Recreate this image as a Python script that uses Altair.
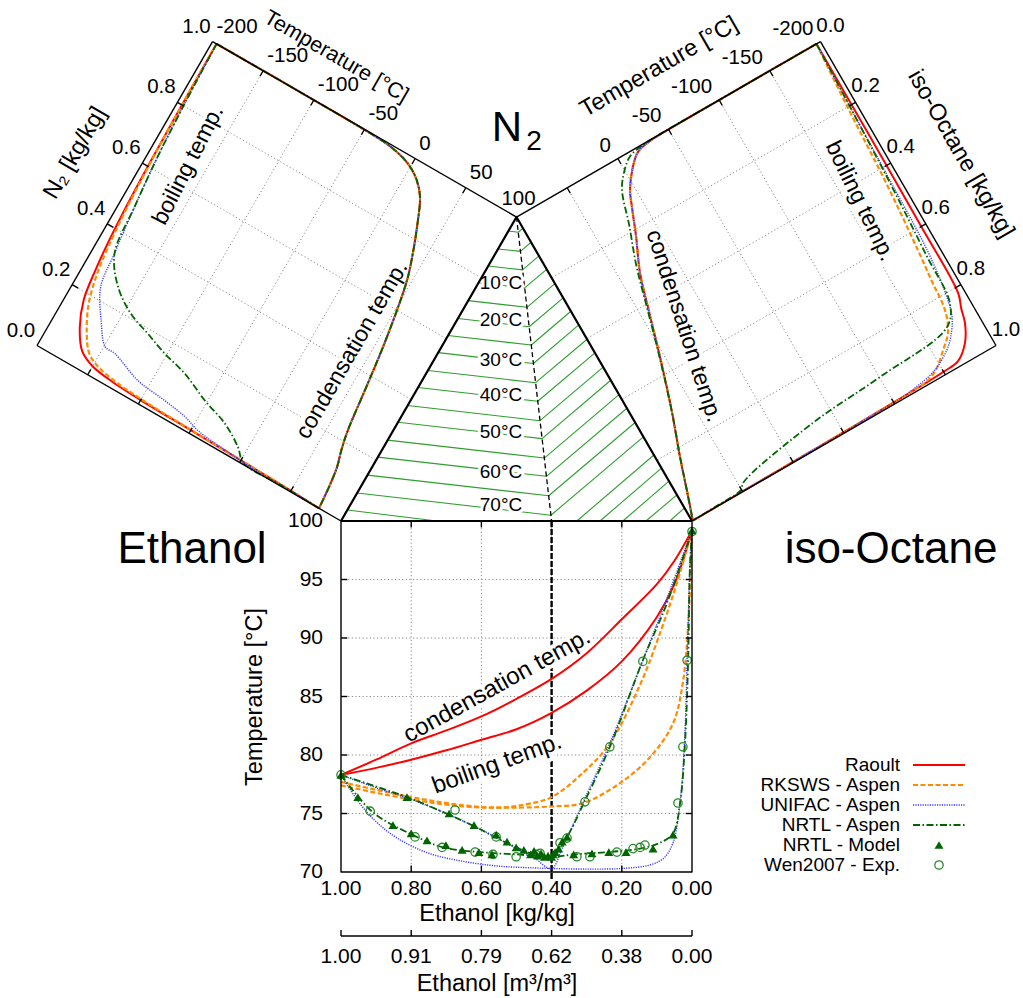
import math
import altair as alt
import pandas as pd

# ---------------- bottom panel: ethanol / iso-octane, T-x diagram ----------------
e_raoult_dew = [1.0, 0.9, 0.8, 0.7, 0.6, 0.5, 0.4, 0.3, 0.2, 0.1, 0.05, 0.0]
T_raoult_dew = [78.3, 79.6, 81.0, 82.1, 83.3, 84.8, 86.5, 88.7, 91.6, 94.6, 96.6, 99.2]
e_raoult_bub = [1.0, 0.9, 0.8, 0.7, 0.6, 0.5, 0.4, 0.3, 0.2, 0.1, 0.05, 0.0]
T_raoult_bub = [78.3, 78.9, 79.6, 80.4, 81.3, 82.2, 83.6, 85.5, 88.0, 91.8, 94.6, 99.2]

e_rk_1 = [1.0, 0.8, 0.65, 0.55, 0.47, 0.40, 0.31, 0.234, 0.148, 0.09, 0.04, 0.0]
T_rk_1 = [77.7, 76.4, 75.7, 75.5, 75.8, 76.4, 78.5, 81.0, 86.0, 90.5, 95.0, 99.2]
e_rk_2 = [1.0, 0.8, 0.65, 0.55, 0.4, 0.31, 0.205, 0.12, 0.054, 0.026, 0.011, 0.003, 0.0]
T_rk_2 = [77.4, 76.2, 75.6, 75.5, 75.6, 75.9, 77.6, 79.8, 82.7, 86.2, 91.0, 96.7, 99.2]

e_unifac_bub = [1.0, 0.95, 0.9, 0.84, 0.75, 0.65, 0.55, 0.45, 0.4, 0.3, 0.2, 0.12, 0.08,
                0.054, 0.034, 0.02, 0.014, 0.006, 0.0]
T_unifac_bub = [78.3, 76.0, 74.3, 72.9, 71.6, 70.9, 70.5, 70.35, 70.3, 70.25, 70.3, 70.6, 71.2,
                72.5, 75.9, 82.0, 88.1, 96.0, 99.2]
e_unifac_dew = [1.0, 0.9, 0.8, 0.7, 0.6, 0.5, 0.45, 0.4, 0.37, 0.311, 0.234, 0.14, 0.07, 0.0]
T_unifac_dew = [78.3, 77.2, 76.2, 75.0, 73.6, 72.0, 71.2, 70.3, 72.0, 75.9, 81.0, 88.1, 93.5, 99.2]

e_nrtl_dew = [1.0, 0.9, 0.812, 0.7, 0.613, 0.556, 0.5, 0.433, 0.40, 0.356, 0.305, 0.234, 0.14, 0.071, 0.0]
T_nrtl_dew = [78.3, 77.3, 76.4, 75.0, 73.8, 72.9, 72.1, 71.3, 71.2, 73.0, 76.1, 80.7, 88.1, 93.0, 99.2]
e_nrtl_bub = [1.0, 0.909, 0.798, 0.709, 0.604, 0.499, 0.396, 0.339, 0.242, 0.148, 0.091, 0.054,
              0.034, 0.02, 0.011, 0.006, 0.0]
T_nrtl_bub = [78.3, 75.1, 73.2, 72.1, 71.7, 71.5, 71.3, 71.5, 71.7, 72.0, 72.5, 73.3,
              75.9, 81.0, 88.1, 96.0, 99.2]

e_nrtl_model = [1.0, 0.952, 0.852, 0.812, 0.800, 0.755, 0.701, 0.692, 0.655, 0.621,
                0.607, 0.570, 0.558, 0.527, 0.501, 0.479, 0.460, 0.450, 0.440, 0.430,
                0.420, 0.410, 0.400, 0.395, 0.390, 0.380, 0.370, 0.356, 0.337, 0.285,
                0.237, 0.188, 0.111, 0.054, 0.0]
T_nrtl_model = [78.3, 76.4, 74.0, 76.4, 73.3, 72.7, 72.3, 75.0, 71.9, 74.0,
                71.7, 71.5, 73.2, 72.6, 72.1, 71.9, 71.5, 71.8, 71.4, 71.6,
                71.3, 71.4, 71.3, 71.5, 71.7, 72.0, 72.6, 73.0, 71.5, 71.6,
                71.7, 71.7, 72.0, 73.2, 99.2]

e_wen = [1.0, 0.917, 0.789, 0.712, 0.675, 0.618, 0.567, 0.558, 0.501, 0.444,
         0.433, 0.376, 0.356, 0.328, 0.305, 0.291, 0.234, 0.214, 0.168, 0.148,
         0.140, 0.134, 0.040, 0.026, 0.014, 0.0]
T_wen = [78.3, 75.2, 73.0, 72.1, 75.3, 71.7, 71.5, 73.0, 71.3, 71.5,
         71.6, 72.5, 72.9, 71.3, 76.0, 71.3, 80.7, 71.7, 72.0, 72.1,
         88.0, 72.3, 75.9, 80.7, 88.1, 99.1]

azeo_e = 0.40

x_ticks = [1.0, 0.8, 0.6, 0.4, 0.2, 0.0]
x_tick_labels = ["1.00", "0.80", "0.60", "0.40", "0.20", "0.00"]
vol_tick_labels = ["1.00", "0.91", "0.79", "0.62", "0.38", "0.00"]
y_ticks = [70, 75, 80, 85, 90, 95, 100]

# ---------------- left panel: N2 / ethanol (w = N2 mass fraction) ----------------
L_cond_T = [-196, -100, -40, -25, -10, 0, 10, 20, 30.6, 38, 45.9, 55.4, 61, 66.3, 70, 74, 76.5, 78.3]
L_cond_w = [1.0, 1.0, 0.998, 0.995, 0.985, 0.972, 0.95, 0.912, 0.834, 0.77, 0.689, 0.519, 0.38,
            0.234, 0.175, 0.128, 0.07, 0.0]
L_raoult_T = [78.3, 40, 0, -50, -100, -130, -150, -164, -176, -185, -189, -191, -193, -194.5, -195.5, -196]
L_raoult_w = [0.0, 0.004, 0.007, 0.01, 0.013, 0.018, 0.028, 0.05, 0.105, 0.18, 0.27, 0.34, 0.45, 0.6, 0.8, 1.0]
L_rk_T = [78.3, 40, 0, -50, -100, -125, -145, -158, -170, -180, -186, -189, -192, -194, -195.5, -196]
L_rk_w = [0.0, 0.004, 0.007, 0.011, 0.016, 0.022, 0.034, 0.055, 0.11, 0.18, 0.26, 0.33, 0.45, 0.6, 0.8, 1.0]
L_unifac_T = [78.3, 40, 4, -10, -44, -60, -82, -110, -139, -149, -163, -178, -182, -187, -191, -194, -196]
L_unifac_w = [0.0, 0.003, 0.005, 0.009, 0.019, 0.035, 0.046, 0.057, 0.091, 0.094, 0.152, 0.236, 0.338,
              0.48, 0.62, 0.8, 1.0]
L_nrtl_T = [78.3, 40, 3, -8, -27.5, -52, -78.5, -102, -123, -144, -165, -182, -187, -191, -194, -196]
L_nrtl_w = [0.0, 0.003, 0.004, 0.036, 0.075, 0.103, 0.141, 0.162, 0.187, 0.212, 0.26, 0.338, 0.48,
            0.62, 0.8, 1.0]

# ---------------- right panel: N2 / iso-octane (x = iso-octane mass fraction) ----------------
R_cond_T = [-196, -100, -40, -30, -18, -7.6, 4.4, 10.3, 20, 32.5, 43, 53.6, 68, 81.5, 92, 99.2]
R_cond_x = [0.0, 0.0, 0.001, 0.003, 0.012, 0.042, 0.095, 0.14, 0.22, 0.314, 0.43, 0.55, 0.70, 0.825, 0.93, 1.0]
R_nrtl_cond_T = [-196, -100, -40, -25, -10, 1.6, 10.4, 20, 32, 43, 53.6, 68, 81.5, 92, 99.2]
R_nrtl_cond_x = [0.0, 0.0, 0.0, 0.002, 0.012, 0.044, 0.084, 0.18, 0.29, 0.42, 0.545, 0.70, 0.825, 0.93, 1.0]
R_raoult_T = [-196, -196, -195.5, -194.4, -190, -186.7, -178, -165, -150, -128, -100, -50, 0, 50, 99.2]
R_raoult_x = [0.0, 0.3, 0.6, 0.817, 0.86, 0.90, 0.95, 0.985, 0.99, 0.993, 0.995, 0.997, 0.998, 0.999, 1.0]
R_rk_T = [-196, -192, -188, -183, -180, -177.4, -170, -158.9, -145, -132.9, -100, -50, 0, 50, 99.2]
R_rk_x = [0.0, 0.2, 0.45, 0.653, 0.75, 0.84, 0.9, 0.936, 0.975, 0.99, 0.995, 0.997, 0.998, 0.999, 1.0]
R_unifac_T = [-196, -194, -192, -189.8, -185, -179.7, -170, -161.8, -143, -120, -100, -50, 0, 50, 99.2]
R_unifac_x = [0.0, 0.2, 0.45, 0.666, 0.8, 0.867, 0.915, 0.941, 0.975, 0.99, 0.995, 0.997, 0.998, 0.999, 1.0]
R_nrtl_T = [-196, -194, -191, -187, -184, -171.6, -100.7, -31.5, 46, 50, 75, 99.2]
R_nrtl_x = [0.0, 0.2, 0.45, 0.68, 0.83, 0.885, 0.9125, 0.93, 0.979, 0.993, 0.998, 1.0]

side_T_ticks = [-200, -150, -100, -50, 0, 50, 100]
side_frac_ticks = [0.0, 0.2, 0.4, 0.6, 0.8, 1.0]

# ---------------- triangle: isotherms (N2 fraction n on the edges / azeotrope line) ----------------
iso_T = [-5, 0, 5, 10, 15, 20, 25, 30, 35, 40, 45, 50, 55, 60, 65, 70]
iso_n_left = [0.954, 0.895, 0.839, 0.784, 0.725, 0.666, 0.610, 0.554, 0.495, 0.439, 0.380, 0.325,
              0.266, 0.210, 0.151, 0.092]
iso_n_azeo = [0.950, 0.887, 0.826, 0.767, 0.703, 0.639, 0.579, 0.518, 0.455, 0.394, 0.330, 0.271,
              0.207, 0.147, 0.083, 0.019]
iso_n_right = [0.963, 0.917, 0.872, 0.828, 0.781, 0.734, 0.690, 0.645, 0.598, 0.553, 0.506, 0.463,
               0.416, 0.371, 0.324, 0.277]
iso75_n_left = 0.036
iso75_a_bottom = 0.727
iso_hot_T = [75, 80, 85, 90, 95]
iso_hot_a_bottom = [0.328, 0.262, 0.197, 0.131, 0.063]
iso_hot_n_right = [0.217, 0.174, 0.131, 0.086, 0.043]
iso_label_T = [10, 20, 30, 40, 50, 60, 70]

# ---------------- layout / geometry ----------------
W, H = 1023, 998
FONT = "Liberation Sans"
AX, AY, EX = 341.0, 521.0, 692.0
SIDE = EX - AX
R3 = math.sqrt(3) / 2
BX, BY = (AX + EX) / 2, AY - SIDE * R3
AXIS2_Y = 936


def bxy(e, T):
    return (AX + (1 - e) * SIDE, AY + (100 - T) / 30 * SIDE)


def lxy(w, T):
    q = (100 - T) / 300
    return (AX + w * SIDE * 0.5 - q * SIDE * R3, AY - w * SIDE * R3 - q * SIDE * 0.5)


def rxy(x, T):
    q = (100 - T) / 300
    return (EX - (1 - x) * SIDE * 0.5 + q * SIDE * R3, AY - (1 - x) * SIDE * R3 - q * SIDE * 0.5)


def txy(a, n):
    o = 1 - a - n
    return (a * AX + n * BX + o * EX, a * AY + n * BY + o * AY)


XE = alt.X("x:Q", scale=alt.Scale(domain=[0, W], range=[0, W], nice=False, zero=False), axis=None)
YE = alt.Y("y:Q", scale=alt.Scale(domain=[0, H], range=[0, H], nice=False, zero=False), axis=None)


def lines(polys, color, width, dash=None, smooth=False):
    rows = []
    for g, pts in enumerate(polys):
        for i, (x, y) in enumerate(pts):
            rows.append({"x": x, "y": y, "g": g, "i": i})
    mk = {"color": color, "strokeWidth": width, "strokeJoin": "round"}
    if dash:
        mk["strokeDash"] = dash
    if smooth:
        mk["interpolate"] = "catmull-rom"
    return alt.Chart(pd.DataFrame(rows)).mark_line(**mk).encode(x=XE, y=YE, detail="g:N", order="i:Q")


def texts(items, size, angle=0, align="center", baseline="middle", color="black", halo=0):
    df = pd.DataFrame([{"x": x, "y": y, "t": t} for x, y, t in items])
    mk = dict(font=FONT, fontSize=size, angle=angle % 360, align=align, baseline=baseline)
    if halo:
        mk.update(fill="white", stroke="white", strokeWidth=halo, strokeJoin="round")
    else:
        mk.update(fill=color)
    return alt.Chart(df).mark_text(**mk).encode(x=XE, y=YE, text="t:N")


def points(pts, shape, filled, color, size, sw=1.3):
    df = pd.DataFrame([{"x": x, "y": y} for x, y in pts])
    return alt.Chart(df).mark_point(shape=shape, filled=filled, color=color, size=size,
                                    strokeWidth=sw, opacity=1).encode(x=XE, y=YE)


STY = {
    "raoult": ("#ff0000", 2.0, None),
    "rk": ("#ff8c00", 2.2, [5, 2.5]),
    "unifac": ("#3a3aff", 1.4, [1.2, 1.2]),
    "nrtl": ("#006400", 1.8, [7, 2.5, 1.5, 2.5]),
}
TRI_COL = "#006400"
CIRC_COL = "#2a8a2a"
TICK_FS = 21
SIDE_TICK_FS = 20.5
TITLE_FS = 23.5

layers = []

# grids
grid = []
for T in [-150, -100, -50, 0, 50]:
    grid.append([lxy(0, T), lxy(1, T)])
    grid.append([rxy(0, T), rxy(1, T)])
for f in [0.2, 0.4, 0.6, 0.8]:
    grid.append([lxy(f, -200), lxy(f, 100)])
    grid.append([rxy(f, -200), rxy(f, 100)])
for T in y_ticks[1:-1]:
    grid.append([bxy(1, T), bxy(0, T)])
for e in x_ticks[1:-1]:
    grid.append([bxy(e, 100), bxy(e, 70)])
layers.append(lines(grid, "#8a8a8a", 1, [1.2, 2.4]))

# triangle isotherms
iso = []
for nL, nD, nR in zip(iso_n_left, iso_n_azeo, iso_n_right):
    iso.append([txy(1 - nL, nL), txy(azeo_e * (1 - nD), nD), txy(0, nR)])
iso.append([txy(1 - iso75_n_left, iso75_n_left), txy(iso75_a_bottom, 0)])
for a, nR in zip(iso_hot_a_bottom, iso_hot_n_right):
    iso.append([txy(a, 0), txy(0, nR)])
layers.append(lines(iso, "#2e9e2e", 1.1))

# azeotrope lines
layers.append(lines([[txy(0, 1), txy(azeo_e, 0)]], "black", 1.3, [5, 3]))
layers.append(lines([[bxy(azeo_e, 100), bxy(azeo_e, 69.3)]], "black", 2.4, [6, 2]))

# label positions (layout)
iso_label_pos = {10: 283, 20: 320, 30: 360, 40: 395, 50: 432, 60: 472, 70: 505}
iso_items = [(501, iso_label_pos[t], f"{t}°C") for t in iso_label_T]
panel_labels = [
    ("condensation temp.", 497, 686, 331, 24),
    ("boiling temp.", 497, 764, 340, 24),
    ("boiling temp.", 188, 165, 297, 23),
    ("condensation temp.", 352, 350, 300, 23),
    ("boiling temp.", 860, 201, 64, 23),
    ("condensation temp.", 684, 326, 72, 23),
]
layers.append(texts(iso_items, 19, halo=6))
for t, x, y, a, fs in panel_labels:
    layers.append(texts([(x, y, t)], fs, angle=a, halo=8))

# side panel curves
for key in ["raoult", "rk", "unifac", "nrtl"]:
    c, w_, d = STY[key]
    layers.append(lines([[lxy(w, T) for w, T in zip(L_cond_w, L_cond_T)]], c, w_, d, True))
for key, (Ts, ws) in [("raoult", (L_raoult_T, L_raoult_w)), ("rk", (L_rk_T, L_rk_w)),
                      ("unifac", (L_unifac_T, L_unifac_w)), ("nrtl", (L_nrtl_T, L_nrtl_w))]:
    c, w_, d = STY[key]
    layers.append(lines([[lxy(w, T) for w, T in zip(ws, Ts)]], c, w_, d, True))
for key in ["raoult", "rk", "unifac"]:
    c, w_, d = STY[key]
    layers.append(lines([[rxy(x, T) for x, T in zip(R_cond_x, R_cond_T)]], c, w_, d, True))
c, w_, d = STY["nrtl"]
layers.append(lines([[rxy(x, T) for x, T in zip(R_nrtl_cond_x, R_nrtl_cond_T)]], c, w_, d, True))
for key, (Ts, xs) in [("raoult", (R_raoult_T, R_raoult_x)), ("rk", (R_rk_T, R_rk_x)),
                      ("unifac", (R_unifac_T, R_unifac_x)), ("nrtl", (R_nrtl_T, R_nrtl_x))]:
    c, w_, d = STY[key]
    layers.append(lines([[rxy(x, T) for x, T in zip(xs, Ts)]], c, w_, d, True))

# bottom panel curves
for key, curves in [
    ("raoult", [(e_raoult_dew, T_raoult_dew), (e_raoult_bub, T_raoult_bub)]),
    ("rk", [(e_rk_1, T_rk_1), (e_rk_2, T_rk_2)]),
    ("unifac", [(e_unifac_dew, T_unifac_dew), (e_unifac_bub, T_unifac_bub)]),
    ("nrtl", [(e_nrtl_dew, T_nrtl_dew), (e_nrtl_bub, T_nrtl_bub)]),
]:
    c, w_, d = STY[key]
    layers.append(lines([[bxy(e, T) for e, T in zip(es, Ts)] for es, Ts in curves], c, w_, d, True))

layers.append(points([bxy(e, T) for e, T in zip(e_wen, T_wen)], "circle", False, CIRC_COL, 70))
layers.append(points([bxy(e, T) for e, T in zip(e_nrtl_model, T_nrtl_model)], "triangle-up", True, TRI_COL, 80))

# frames
frame_thin = [
    [lxy(0, -200), lxy(1, -200)], [lxy(1, -200), lxy(1, 100)], [lxy(0, -200), lxy(0, 100)],
    [rxy(0, -200), rxy(1, -200)], [rxy(0, -200), rxy(0, 100)], [rxy(1, -200), rxy(1, 100)],
    [bxy(1, 100), bxy(1, 70), bxy(0, 70), bxy(0, 100)],
    [(AX, AXIS2_Y), (EX, AXIS2_Y)],
]
ticks = []
for f in side_frac_ticks[1:-1]:
    ticks.append([lxy(f, -200), lxy(f, -194)])
    ticks.append([rxy(f, -200), rxy(f, -194)])
for T in side_T_ticks[1:-1]:
    ticks.append([lxy(1, T), lxy(0.982, T)])
    ticks.append([lxy(0, T), lxy(0.018, T)])
    ticks.append([rxy(0, T), rxy(0.018, T)])
    ticks.append([rxy(1, T), rxy(0.982, T)])
for T in y_ticks[1:-1]:
    ticks.append([bxy(1, T), bxy(0.982, T)])
    ticks.append([bxy(0, T), bxy(0.018, T)])
for e in x_ticks[1:-1]:
    ticks.append([bxy(e, 70), bxy(e, 70.55)])
    ticks.append([bxy(e, 100), bxy(e, 99.45)])
for e in x_ticks:
    x0 = bxy(e, 70)[0]
    ticks.append([(x0, AXIS2_Y), (x0, AXIS2_Y - 6)])
layers.append(lines(frame_thin + ticks, "black", 1.4))
layers.append(lines([[txy(1, 0), txy(0, 1), txy(0, 0)], [txy(1, 0), txy(0, 0)]], "black", 2.2))

# legend
leg_rows = [765, 785, 805, 825, 845, 865]
leg_names = ["Raoult", "RKSWS - Aspen", "UNIFAC - Aspen", "NRTL - Aspen", "NRTL - Model", "Wen2007 - Exp."]
layers.append(texts([(900, y, t) for y, t in zip(leg_rows, leg_names)], 19, align="right"))
for key, y in zip(["raoult", "rk", "unifac", "nrtl"], leg_rows):
    c, w_, d = STY[key]
    layers.append(lines([[(913, y), (965, y)]], c, w_, d))
layers.append(points([(939, leg_rows[4])], "triangle-up", True, TRI_COL, 80))
layers.append(points([(939, leg_rows[5])], "circle", False, CIRC_COL, 70))

# texts
layers.append(texts(iso_items, 19))
for t, x, y, a, fs in panel_labels:
    layers.append(texts([(x, y, t)], fs, angle=a))

layers.append(texts([(AX - 18, bxy(1, T)[1], str(T)) for T in y_ticks], TICK_FS, align="right"))
layers.append(texts([(bxy(e, 70)[0], 889, l) for e, l in zip(x_ticks, x_tick_labels)], TICK_FS))
layers.append(texts([(bxy(e, 70)[0], 957, l) for e, l in zip(x_ticks, vol_tick_labels)], TICK_FS))
layers.append(texts([(497, 914, "Ethanol [kg/kg]"), (497, 984, "Ethanol [m³/m³]")], TITLE_FS))
layers.append(texts([(255, 697, "Temperature [°C]")], TITLE_FS, angle=270))

# side panel tick labels
lt = []
for T in side_T_ticks[:-1]:
    px, py = lxy(1, T)
    lt.append((px + 4, py - 15, str(T)))
layers.append(texts(lt, SIDE_TICK_FS, align="left"))
layers.append(texts([(BX + 2, BY - 18, "100")], SIDE_TICK_FS))
rt = []
for T in side_T_ticks[:-2]:
    px, py = rxy(0, T)
    rt.append((px - 7, py - 13, str(T)))
layers.append(texts(rt, SIDE_TICK_FS, align="right"))
lf = []
rf = []
for f in side_frac_ticks:
    px, py = lxy(f, -200)
    lf.append((px - 16, py - 15, f"{f:.1f}"))
    px, py = rxy(f, -200)
    rf.append((px + 10, py - 16, f"{f:.1f}"))
layers.append(texts(lf + rf, SIDE_TICK_FS))

layers.append(texts([(75, 153, "N₂ [kg/kg]")], TITLE_FS, angle=300))
layers.append(texts([(336, 57, "Temperature [°C]")], 21.5, angle=30))
layers.append(texts([(659, 67, "Temperature [°C]")], TITLE_FS, angle=330))
layers.append(texts([(961, 154, "iso-Octane [kg/kg]")], TITLE_FS, angle=60))

layers.append(texts([(192, 563, "Ethanol"), (891, 563, "iso-Octane")], 44, baseline="alphabetic"))
layers.append(texts([(507, 141, "N")], 42, baseline="alphabetic"))
layers.append(texts([(534, 150, "2")], 28, baseline="alphabetic"))

chart = alt.layer(*layers).properties(
    width=W, height=H, padding=0, autosize="none", background="white"
).configure_view(stroke=None)

chart.save("out.html", embed_options={"renderer": "svg", "actions": False})
